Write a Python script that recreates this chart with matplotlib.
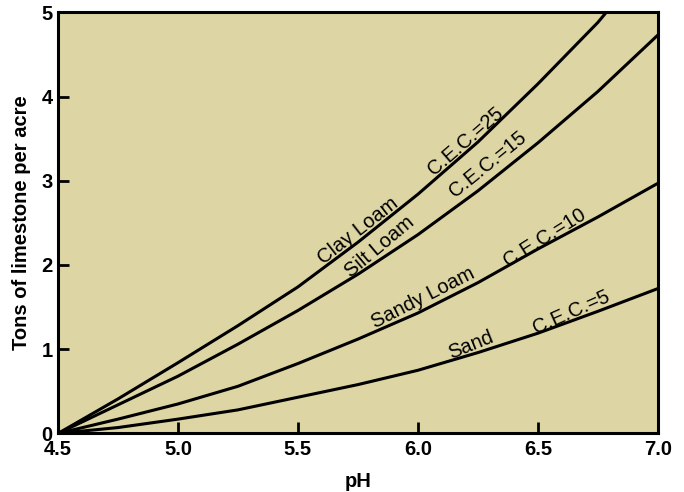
import matplotlib
matplotlib.use("Agg")
import matplotlib.pyplot as plt

plt.rcParams['font.family'] = ['Liberation Sans', 'DejaVu Sans']

# pH readings (x) for each curve
ph = [4.5, 4.75, 5.0, 5.25, 5.5, 5.75, 6.0, 6.25, 6.5, 6.75, 7.0]
ph_clay = [4.5, 4.75, 5.0, 5.25, 5.5, 5.75, 6.0, 6.25, 6.5, 6.75, 6.785]

# Tons of limestone per acre
clay_loam = [0, 0.41, 0.84, 1.28, 1.74, 2.27, 2.84, 3.46, 4.15, 4.88, 5.0]
silt_loam = [0, 0.34, 0.68, 1.06, 1.46, 1.89, 2.36, 2.88, 3.45, 4.06, 4.73]
sandy_loam = [0, 0.17, 0.35, 0.56, 0.83, 1.12, 1.43, 1.79, 2.19, 2.57, 2.97]
sand = [0, 0.07, 0.17, 0.28, 0.43, 0.58, 0.75, 0.96, 1.19, 1.45, 1.72]

x_ticks = [4.5, 5.0, 5.5, 6.0, 6.5, 7.0]
x_ticklabels = ["4.5", "5.0", "5.5", "6.0", "6.5", "7.0"]
y_ticks = [0, 1, 2, 3, 4, 5]

# curve labels: (text, x, y, angle)
labels = [
    ("Clay Loam", 5.75, 2.41, 38),
    ("C.E.C.=25", 6.20, 3.47, 41),
    ("Silt Loam", 5.84, 2.22, 40),
    ("C.E.C.=15", 6.29, 3.20, 39),
    ("Sandy Loam", 6.02, 1.61, 27),
    ("C.E.C.=10", 6.53, 2.33, 32),
    ("Sand", 6.22, 1.05, 22),
    ("C.E.C.=5", 6.64, 1.44, 24),
]

fig = plt.figure(figsize=(6.84, 4.92), dpi=100)
ax = fig.add_axes([0.0848, 0.119, 0.877, 0.856])
ax.set_facecolor('#ddd5a3')

lw = 2.2
ax.plot(ph_clay, clay_loam, color='black', lw=lw, solid_capstyle='butt')
ax.plot(ph, silt_loam, color='black', lw=lw)
ax.plot(ph, sandy_loam, color='black', lw=lw)
ax.plot(ph, sand, color='black', lw=lw)

for t, x, y, a in labels:
    ax.text(x, y, t, rotation=a, rotation_mode='anchor', ha='center', va='center',
            fontsize=14.5, color='black')

ax.set_xlim(4.5, 7.0)
ax.set_ylim(0, 5)
ax.set_xticks(x_ticks)
ax.set_xticklabels(x_ticklabels)
ax.set_yticks(y_ticks)
ax.tick_params(direction='in', length=8, width=2, labelsize=14.5)
ax.tick_params(axis='x', pad=5)
ax.tick_params(axis='y', pad=4)
for lab in ax.get_xticklabels() + ax.get_yticklabels():
    lab.set_fontweight('bold')
for s in ax.spines.values():
    s.set_linewidth(2.2)

ax.set_xlabel("pH", fontsize=14.5, fontweight='bold', labelpad=9)
ax.set_ylabel("Tons of limestone per acre", fontsize=14.5, fontweight='bold', labelpad=7)

fig.savefig("out.png", dpi=100)
